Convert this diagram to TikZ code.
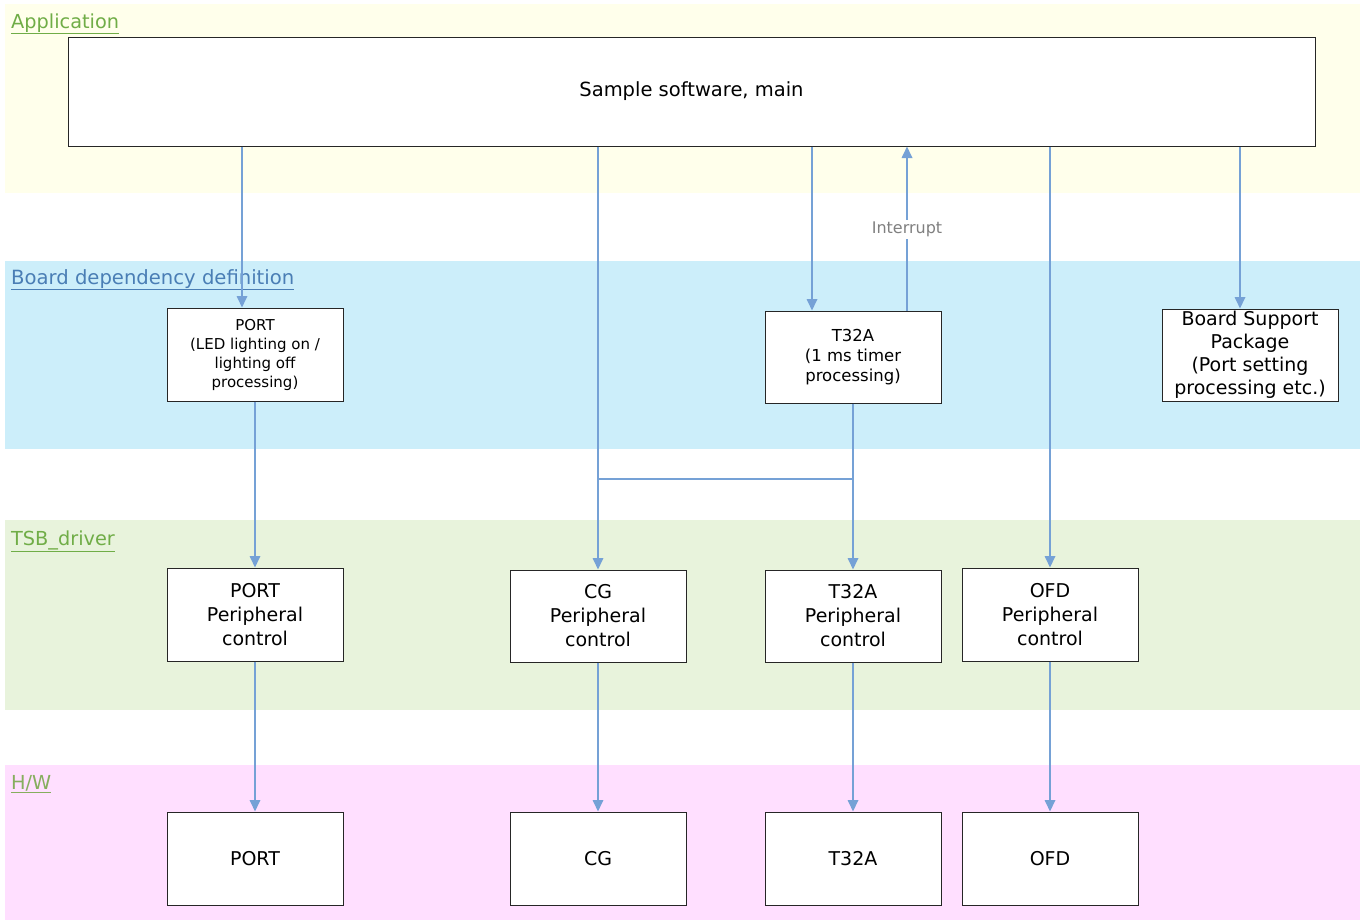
\documentclass[tikz,border=0pt]{standalone}
\usepackage{fontspec}
\setmainfont{DejaVu Sans}
\usetikzlibrary{arrows.meta}
\definecolor{appbg}{HTML}{FFFFEB}
\definecolor{boardbg}{HTML}{CCEEFA}
\definecolor{tsbbg}{HTML}{E8F3DC}
\definecolor{hwbg}{HTML}{FFDFFF}
\definecolor{lblgreen}{HTML}{70AD47}
\definecolor{lblhw}{HTML}{86AE5E}
\definecolor{lblblue}{HTML}{4A7EB5}
\definecolor{linec}{HTML}{75A1D6}
\definecolor{boxc}{HTML}{262626}
\tikzset{
  box/.style={draw=boxc, line width=1pt, fill=white, inner sep=0pt, align=center,
              minimum width=176pt, minimum height=93pt},
  fbig/.style={font=\fontsize{19}{24}\selectfont},
  fmid/.style={font=\fontsize{16.5}{20}\selectfont},
  fsmall/.style={font=\fontsize{15}{19}\selectfont},
  arr/.style={draw=linec, line width=1.7pt, -{Triangle[width=10.5pt,length=11.5pt]}},
  conn/.style={draw=linec, line width=1.7pt},
  lbl/.style={anchor=base west, inner sep=0pt, font=\fontsize{19.3}{24}\selectfont}
}
\begin{document}
\begin{tikzpicture}[x=1pt,y=-1pt]
\useasboundingbox (0,0) rectangle (1365,921);
% bands
\fill[appbg] (5,4) rectangle (1360,193);
\fill[boardbg] (5,261) rectangle (1360,449);
\fill[tsbbg] (5,520) rectangle (1360,710);
\fill[hwbg] (5,765) rectangle (1360,920);
% band labels
\node[lbl, text=lblgreen] (lapp) at (11,28) {\underline{Application}};
\node[lbl, text=lblblue, font=\fontsize{19.6}{24}\selectfont] (lboard) at (11,284) {\underline{Board dependency definition}};
\node[lbl, text=lblgreen] (ltsb) at (11,545) {\underline{TSB\_driver}};
\node[lbl, text=lblhw] (lhw) at (11,789) {\underline{H/W}};
% main
\node[box, minimum width=1247pt, minimum height=109pt, font=\fontsize{19.5}{24}\selectfont] (main) at (691.5,91.5) {Sample software, main};
% board dependency row
\node[box, fsmall] (portB) at (255,354.5) {PORT\\(LED lighting on /\\lighting off\\processing)};
\node[box, fmid, minimum height=92pt] (t32B) at (853,357) {T32A\\(1 ms timer\\processing)};
\node[box, minimum height=92pt, font=\fontsize{19}{23}\selectfont] (bsp) at (1250,355) {Board Support\\Package\\(Port setting\\processing etc.)};
% TSB driver row
\node[box, fbig] (portP) at (255,614.5) {PORT\\Peripheral\\control};
\node[box, fbig, minimum height=92pt] (cgP) at (598,616) {CG\\Peripheral\\control};
\node[box, fbig, minimum height=92pt] (t32P) at (853,616) {T32A\\Peripheral\\control};
\node[box, fbig] (ofdP) at (1050,614.5) {OFD\\Peripheral\\control};
% H/W row
\node[box, fbig] (portH) at (255,858.5) {PORT};
\node[box, fbig] (cgH) at (598,858.5) {CG};
\node[box, fbig] (t32H) at (853,858.5) {T32A};
\node[box, fbig] (ofdH) at (1050,858.5) {OFD};
% connectors from main
\draw[arr] ([xshift=-13pt]portB.north |- main.south) -- ([xshift=-13pt]portB.north);
\draw[arr] (cgP.north |- main.south) -- (cgP.north);
\draw[arr] ([xshift=-41pt]t32B.north |- main.south) -- ([xshift=-41pt]t32B.north);
\draw[arr] ([xshift=54pt]t32B.north) -- ([xshift=54pt]t32B.north |- main.south);
\node[fill=white, inner sep=2pt, text=gray, font=\fontsize{16}{19}\selectfont] (intr) at (907,229) {Interrupt};
\draw[arr] (ofdP.north |- main.south) -- (ofdP.north);
\draw[arr] ([xshift=-10pt]bsp.north |- main.south) -- ([xshift=-10pt]bsp.north);
% board to driver
\draw[arr] (portB.south) -- (portP.north);
\draw[arr] (t32B.south) -- (t32P.north);
\coordinate (junc) at (853,479);
\draw[conn] (junc) -- (junc -| cgP.north);
% driver to hw
\draw[arr] (portP.south) -- (portH.north);
\draw[arr] (cgP.south) -- (cgH.north);
\draw[arr] (t32P.south) -- (t32H.north);
\draw[arr] (ofdP.south) -- (ofdH.north);
\end{tikzpicture}
\end{document}
